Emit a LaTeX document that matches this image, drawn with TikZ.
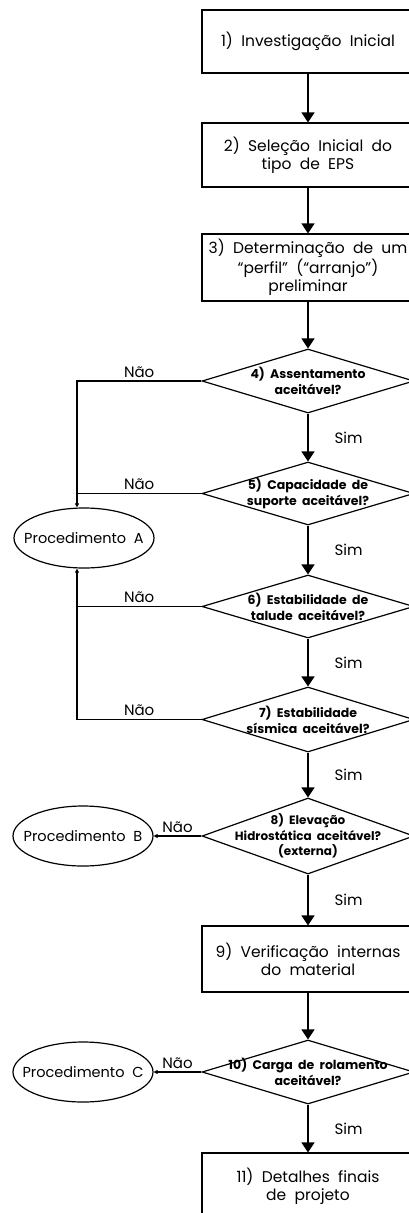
\documentclass[tikz,border=0pt]{standalone}
\usepackage{fontspec}
\setmainfont{Poppins}
\usetikzlibrary{arrows.meta,shapes.geometric}

\tikzset{
  passo/.style={draw, rectangle, minimum width=212pt, align=center,
    font=\fontsize{15.5}{18}\selectfont},
  decisao/.style={draw, diamond, minimum width=212pt, inner sep=0pt},
  dtexto/.style={align=center, inner sep=0pt, font=\fontsize{12.5}{16}\selectfont\bfseries},
  proced/.style={draw, ellipse, minimum width=140pt, minimum height=60pt, inner sep=0pt},
  ptexto/.style={inner sep=0pt, font=\fontsize{14.5}{16}\selectfont},
  rotulo/.style={font=\fontsize{15}{16}\selectfont, inner sep=3pt},
  fluxo/.style={-{Triangle[length=10pt,width=13pt]}},
  saida/.style={-{Triangle[length=4pt,width=4pt]}}
}

\begin{document}
\begin{tikzpicture}[x=1pt, y=-1pt, line width=1.2pt]
  \clip (0,0) rectangle (409,1213);
  \coordinate (tronco) at (77,0);

  % coluna principal
  \node[passo, minimum height=63pt] (p1) at (308,41.5) {1)\ \ Investigação\ \ Inicial};
  \node[passo, minimum height=64pt] (p2) at (308,155) {2)\ \ Seleção\ \ Inicial\ \ do\\tipo\ \ de\ \ EPS};
  \node[passo, minimum height=67pt] (p3) at (308,267.5) {3)\ \ Determinação\ \ de\ \ um\\``perfil''\ \ (``arranjo'')\\preliminar};
  \node[decisao, minimum height=64pt] (d4) at (308,381) {};
  \node[dtexto] (t4) at (d4) {4)\ \ Assentamento\\aceitável?};
  \node[decisao, minimum height=63pt] (d5) at (308,493.5) {};
  \node[dtexto] (t5) at (d5) {5)\ \ Capacidade\ \ de\\suporte\ \ aceitável?};
  \node[decisao, minimum height=63pt] (d6) at (308,606.5) {};
  \node[dtexto] (t6) at (d6) {6)\ \ Estabilidade\ \ de\\talude\ \ aceitável?};
  \node[decisao, minimum height=65pt] (d7) at (308,719.5) {};
  \node[dtexto] (t7) at (d7) {7)\ \ Estabilidade\\sísmica\ \ aceitável?};
  \node[decisao, minimum height=76pt] (d8) at (308,836) {};
  \node[dtexto, font=\fontsize{12}{15.5}\selectfont\bfseries] (t8) at (d8) {8)\ \ Elevação\\Hidrostática\ \ aceitável?\\(externa)};
  \node[passo, minimum height=66pt] (p9) at (308,959) {9)\ \ Verificação\ \ internas\\do\ \ material};
  \node[decisao, minimum height=64pt] (d10) at (308,1072) {};
  \node[dtexto] (t10) at (d10) {10)\ \ Carga\ \ de\ \ rolamento\\aceitável?};
  \node[passo, minimum height=66pt] (p11) at (308,1186) {11)\ \ Detalhes\ \ finais\\de\ \ projeto};

  % procedimentos
  \node[proced] (pA) at (84,538) {};
  \node[ptexto] (tA) at (pA) {Procedimento\ \ A};
  \node[proced] (pB) at (83,836) {};
  \node[ptexto] (tB) at (pB) {Procedimento\ \ B};
  \node[proced] (pC) at (83,1072) {};
  \node[ptexto] (tC) at (pC) {Procedimento\ \ C};

  % setas
  \draw[fluxo] (p1) -- (p2);
  \draw[fluxo] (p2) -- (p3);
  \draw[fluxo] (p3) -- (d4);
  \draw[fluxo] (d4) -- node[rotulo, right, xshift=23pt] {Sim} (d5);
  \draw[fluxo] (d5) -- node[rotulo, right, xshift=23pt] {Sim} (d6);
  \draw[fluxo] (d6) -- node[rotulo, right, xshift=23pt] {Sim} (d7);
  \draw[fluxo] (d7) -- node[rotulo, right, xshift=23pt] {Sim} (d8);
  \draw[fluxo] (d8) -- node[rotulo, right, xshift=23pt] {Sim} (p9);
  \draw[fluxo] (p9) -- (d10);
  \draw[fluxo] (d10) -- node[rotulo, right, xshift=23pt] {Sim} (p11);

  \draw[saida] (d4.west) -| node[rotulo, pos=0.25, above] {Não} (pA.north -| tronco);
  \draw (d5.west) -- node[rotulo, above] {Não} (d5.west -| tronco);
  \draw (d6.west) -- node[rotulo, above] {Não} (d6.west -| tronco);
  \draw[saida] (d7.west) -| node[rotulo, pos=0.25, above] {Não} (pA.south -| tronco);
  \draw[saida] (d8.west) -- node[rotulo, above] {Não} (pB.east);
  \draw[saida] (d10.west) -- node[rotulo, above] {Não} (pC.east);
\end{tikzpicture}
\end{document}
